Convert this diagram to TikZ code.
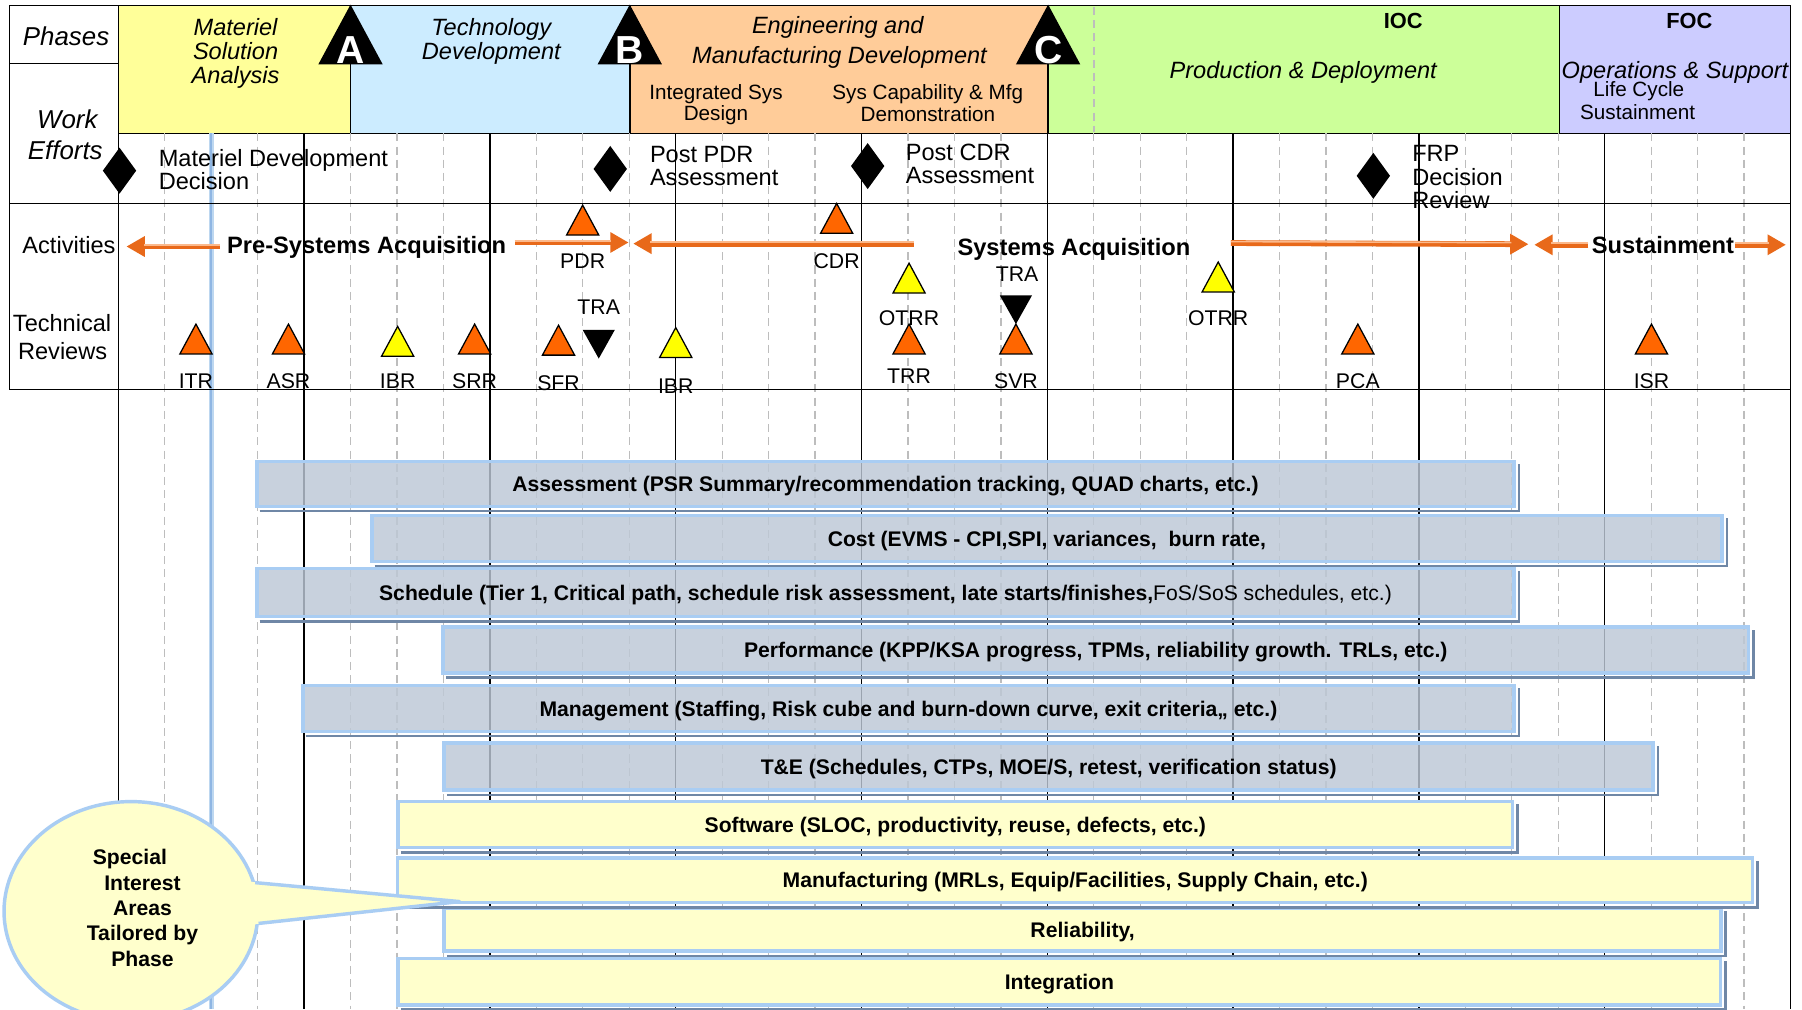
\documentclass[tikz,border=0pt]{standalone}
\usepackage{fontspec}
\setmainfont{Liberation Sans}
\usetikzlibrary{arrows.meta,shapes.geometric}
\definecolor{phY}{HTML}{FFFF99}
\definecolor{phB}{HTML}{CCECFF}
\definecolor{phO}{HTML}{FFCC99}
\definecolor{phG}{HTML}{CCFF99}
\definecolor{phP}{HTML}{CCCCFF}
\definecolor{triO}{HTML}{FF6600}
\definecolor{triY}{HTML}{FFFF00}
\definecolor{arrO}{HTML}{E8691A}
\definecolor{arrL}{HTML}{FBB98C}
\definecolor{gridG}{HTML}{BDBDBD}
\definecolor{blueL}{HTML}{BDD7F0}
\definecolor{blueM}{HTML}{8FB6E3}
\definecolor{barG}{HTML}{BDC8D6}
\definecolor{barY}{HTML}{FFFFCC}
\definecolor{glow}{HTML}{A9CDF3}
\definecolor{shade}{HTML}{6F87A6}
\tikzset{
  blk/.style={line width=1.2pt, draw=black},
  dsh/.style={line width=1.1pt, draw=gridG, dash pattern=on 7pt off 4.5pt},
  phasebox/.style={draw=black, line width=1.3pt},
  txc/.style={inner sep=0pt, anchor=base},
  txw/.style={inner sep=0pt, anchor=base west},
  fLab/.style={font=\fontsize{22.5pt}{26pt}\selectfont\itshape},
  fPh/.style={font=\fontsize{20.5pt}{24pt}\selectfont\itshape},
  fSub/.style={font=\fontsize{18pt}{21pt}\selectfont},
  fReg/.style={font=\fontsize{20.5pt}{24pt}\selectfont},
  fAct/.style={font=\fontsize{20.6pt}{24pt}\selectfont\bfseries},
  fRev/.style={font=\fontsize{18.5pt}{22pt}\selectfont},
  fBar/.style={font=\fontsize{18.4pt}{22pt}\selectfont\bfseries},
  fOC/.style={font=\fontsize{19pt}{22pt}\selectfont\bfseries},
  msf/.style={inner sep=0pt, anchor=base, text=white, font=\fontsize{34pt}{36pt}\selectfont\bfseries},
  orgarrow/.style={draw=arrO, line width=5pt, -{Triangle[length=16pt,width=17pt]}},
  orghl/.style={draw=arrL, line width=1.4pt, shorten >=15pt},
  graybar/.style={draw=glow, line width=3pt, fill=barG, fill opacity=0.82, text opacity=1, fBar, text height=13.2pt, text depth=0pt, inner sep=0pt},
  yelbar/.style={draw=glow, line width=3pt, fill=barY, fBar, text height=13.2pt, text depth=0pt, inner sep=0pt},
  barshadow/.style={draw=shade, line width=2.2pt},
  otri/.pic={\filldraw[fill=triO, draw=black, line width=1.1pt] (-14,0) -- (0,-26) -- (14,0) -- cycle;},
  ytri/.pic={\filldraw[fill=triY, draw=black, line width=1.1pt] (-14,0) -- (0,-26) -- (14,0) -- cycle;},
  btri/.pic={\fill[black] (-14,0) -- (14,0) -- (0,25) -- cycle;},
  dmd/.pic={\fill[black] (-14.5,0) -- (0,-20) -- (14.5,0) -- (0,20) -- cycle;},
}
\begin{document}
\begin{tikzpicture}[x=1pt,y=-1pt]
\useasboundingbox (0,0) rectangle (1568,878);
\clip (0,0) rectangle (1568,878);
\fill[white] (0,0) rectangle (1568,878);
% phase band
\filldraw[fill=phY, phasebox] (103,5) rectangle (305,116);
\filldraw[fill=phB, phasebox] (305,5) rectangle (548,116);
\filldraw[fill=phO, phasebox] (548,5) rectangle (912,116);
\filldraw[fill=phG, phasebox] (912,5) rectangle (1357,116);
\filldraw[fill=phP, phasebox] (1357,5) rectangle (1558,116);
\draw[dsh] (952,6) -- (952,115);
% grid
\foreach \k in {0,...,8}{\foreach \j in {1,2,3}{\draw[dsh] ({103+161.667*\k+40.417*\j},116) -- ++(0,762);}}
\foreach \k in {0,...,9}{\draw[blk] ({103+161.667*\k},116) -- ++(0,762);}
\draw[blueL, line width=5pt] (184,116) -- (184,878);
\draw[blueM, line width=1.8pt] (184,116) -- (184,878);
% table lines
\draw[blk] (8,5) rectangle (103,339);
\draw[blk] (8,55) -- (103,55);
\draw[blk] (8,177) -- (1558,177);
\draw[blk] (8,339) -- (1558,339);
\draw[blk] (8,5) -- (1558,5);
% milestones
\foreach \x/\l in {305/A,548/B,912/C}{
  \fill[black] (\x-28,56) -- (\x,4) -- (\x+28,56) -- cycle;
  \node[msf] (ms\l) at (\x,55) {\l};
}
% left column labels
\node[txc,fLab] (lPh) at (57.5,39.2) {Phases};
\node[txc,fLab] (lWo) at (58.6,111.7) {Work};
\node[txc,fLab] (lEf) at (56.8,139) {Efforts};
\node[txc,fReg] (lAc) at (60,220.5) {Activities};
\node[txc,fReg] (lTe) at (54,288.6) {Technical};
\node[txc,fReg] (lRe) at (54.5,313) {Reviews};
% phase names
\node[txc,fPh] (p1a) at (205,30.5) {Materiel};
\node[txc,fPh] (p1b) at (205,52) {Solution};
\node[txc,fPh] (p1c) at (205,73) {Analysis};
\node[txc,fPh] (p2a) at (427.5,30.5) {Technology};
\node[txc,fPh] (p2b) at (427.5,52) {Development};
\node[txc,fPh] (p3a) at (729,29) {Engineering and};
\node[txc,fPh] (p3b) at (730.5,55) {Manufacturing Development};
\node[txc,fSub] (p3c) at (623,87) {Integrated Sys};
\node[txc,fSub] (p3d) at (623,104.5) {Design};
\node[txc,fSub] (p3e) at (807.3,87) {Sys Capability \& Mfg};
\node[txc,fSub] (p3f) at (807.4,105.5) {Demonstration};
\node[txc,fOC] (ioc) at (1221,24.7) {IOC};
\node[txc,fPh] (p4a) at (1134,68) {Production \& Deployment};
\node[txc,fOC] (foc) at (1470,24.6) {FOC};
\node[txc,fPh] (p5a) at (1457.5,68) {Operations \& Support};
\node[txc,fSub] (p5b) at (1426,84) {Life Cycle};
\node[txc,fSub] (p5c) at (1425,104.4) {Sustainment};
% work efforts
\pic at (104,148.5) {dmd};
\pic at (531,147) {dmd};
\pic at (755,144.5) {dmd};
\pic at (1195,153) {dmd};
\node[txw,fReg] (w1a) at (138,145) {Materiel Development};
\node[txw,fReg] (w1b) at (138,165.3) {Decision};
\node[txw,fReg] (w2a) at (565.4,141.5) {Post PDR};
\node[txw,fReg] (w2b) at (565.4,161) {Assessment};
\node[txw,fReg] (w3a) at (788,140) {Post CDR};
\node[txw,fReg] (w3b) at (788,159.5) {Assessment};
\node[txw,fReg] (w4a) at (1228.7,140.7) {FRP};
\node[txw,fReg] (w4b) at (1228.7,161) {Decision};
\node[txw,fReg] (w4c) at (1228.7,181.3) {Review};
% activities
\node[txc,fAct] (act1) at (319,220.5) {Pre-Systems Acquisition};
\node[txc,fAct] (act2) at (934.5,222) {Systems Acquisition};
\node[txc,fAct] (act3) at (1447,220.5) {Sustainment};
\coordinate (a1s) at (191,214.5); \coordinate (a1e) at (110,214.5);
\coordinate (a2s) at (448,211);   \coordinate (a2e) at (547,211);
\coordinate (a3s) at (795,212);   \coordinate (a3e) at (551,212);
\coordinate (a4s) at (1071,211.5);\coordinate (a4e) at (1330,212.5);
\coordinate (a5s) at (1382,213);  \coordinate (a5e) at (1335,213);
\coordinate (a6s) at (1510,213);  \coordinate (a6e) at (1554,213);
\foreach \a in {1,...,6}{
  \draw[orgarrow] (a\a s) -- (a\a e);
  \draw[orghl] ([yshift=1.3pt]a\a s) -- ([yshift=1.3pt]a\a e);
}
% technical reviews
\pic at (170.5,308) {otri}; \node[txc,fRev] (rITR) at (170.5,338) {ITR};
\pic at (251,308) {otri};   \node[txc,fRev] (rASR) at (251,338) {ASR};
\pic at (346,310) {ytri};   \node[txc,fRev] (rIBR1) at (346,338) {IBR};
\pic at (413,308) {otri};   \node[txc,fRev] (rSRR) at (413,338) {SRR};
\pic at (486,309) {otri};   \node[txc,fRev] (rSFR) at (486,339.5) {SFR};
\pic at (521,287) {btri};   \node[txc,fRev] (rTRA1) at (521,274) {TRA};
\pic at (507,204.5) {otri}; \node[txc,fRev] (rPDR) at (507,233.5) {PDR};
\pic at (588,311) {ytri};   \node[txc,fRev] (rIBR2) at (588,342) {IBR};
\pic at (728,203) {otri};   \node[txc,fRev] (rCDR) at (728,233.5) {CDR};
\pic at (791,255) {ytri};   \node[txc,fRev] (rOTRR1) at (791,282.8) {OTRR};
\pic at (791,308) {otri};   \node[txc,fRev] (rTRR) at (791,333.6) {TRR};
\node[txc,fRev] (rTRA2) at (885,245) {TRA};
\pic at (884,257) {btri};
\pic at (884,308) {otri};   \node[txc,fRev] (rSVR) at (884,338) {SVR};
\pic at (1060,254) {ytri};  \node[txc,fRev] (rOTRR2) at (1060,282.8) {OTRR};
\pic at (1181.5,308) {otri};\node[txc,fRev] (rPCA) at (1181.5,338) {PCA};
\pic at (1437,308) {otri};  \node[txc,fRev] (rISR) at (1437,338) {ISR};
% bars
\node[graybar, minimum width=1094pt, minimum height=39pt] (b1) at (770.5,421) {Assessment (PSR Summary/recommendation tracking, QUAD charts, etc.)};
\node[graybar, minimum width=1175pt, minimum height=40pt] (b2) at (911,468.5) {Cost (EVMS - CPI,SPI, variances,\ \ burn rate,};
\node[graybar, minimum width=1094pt, minimum height=42pt] (b3) at (770.5,515.5) {Schedule (Tier 1, Critical path, schedule risk assessment, late starts/finishes,{\mdseries FoS/SoS schedules, etc.)}};
\node[graybar, minimum width=1136pt, minimum height=40pt] (b4) at (953.5,565.5) {Performance (KPP/KSA progress, TPMs, reliability growth. TRLs, etc.)};
\node[graybar, minimum width=1054pt, minimum height=40pt] (b5) at (790.5,616.5) {Management (Staffing, Risk cube and burn-down curve, exit criteria,, etc.)};
\node[graybar, minimum width=1052pt, minimum height=41pt] (b6) at (912.5,667) {T\&E (Schedules, CTPs, MOE/S, retest, verification status)};
\node[yelbar, minimum width=970pt, minimum height=40pt] (b7) at (831.3,717.5) {Software (SLOC, productivity, reuse, defects, etc.)};
\node[yelbar, minimum width=1179pt, minimum height=39pt] (b8) at (935.6,766) {Manufacturing (MRLs, Equip/Facilities, Supply Chain, etc.)};
\node[yelbar, minimum width=1111pt, minimum height=37.5pt] (b9) at (942,808.8) {Reliability,};
\node[yelbar, minimum width=1151pt, minimum height=40.5pt] (b10) at (921.8,854.2) {Integration};
\foreach \b in {b1,b2,b3,b4,b5,b6,b7,b8,b9,b10}{
  \draw[barshadow] ([xshift=4pt,yshift=-2.6pt]\b.south west) -- ([xshift=2.6pt,yshift=-2.6pt]\b.south east) -- ([xshift=2.6pt,yshift=-4pt]\b.north east);
}
% callout
\node[ellipse, draw=glow, line width=3pt, fill=barY, minimum width=221pt, minimum height=191pt, inner sep=0pt] (co) at (114,793) {};
\coordinate (tip) at (400,784.5);
\fill[barY] (205,766) -- (tip) -- (205,806) -- cycle;
\draw[glow, line width=3pt, line join=round] (222,768) -- (tip) -- (225,803.5);
\node[fBar, align=center, inner sep=0pt, font=\fontsize{18.4pt}{22pt}\selectfont\bfseries] (cot) at (124,790) {Special\hspace*{22pt}\\Interest\\Areas\\Tailored by\\Phase};
\end{tikzpicture}
\end{document}
